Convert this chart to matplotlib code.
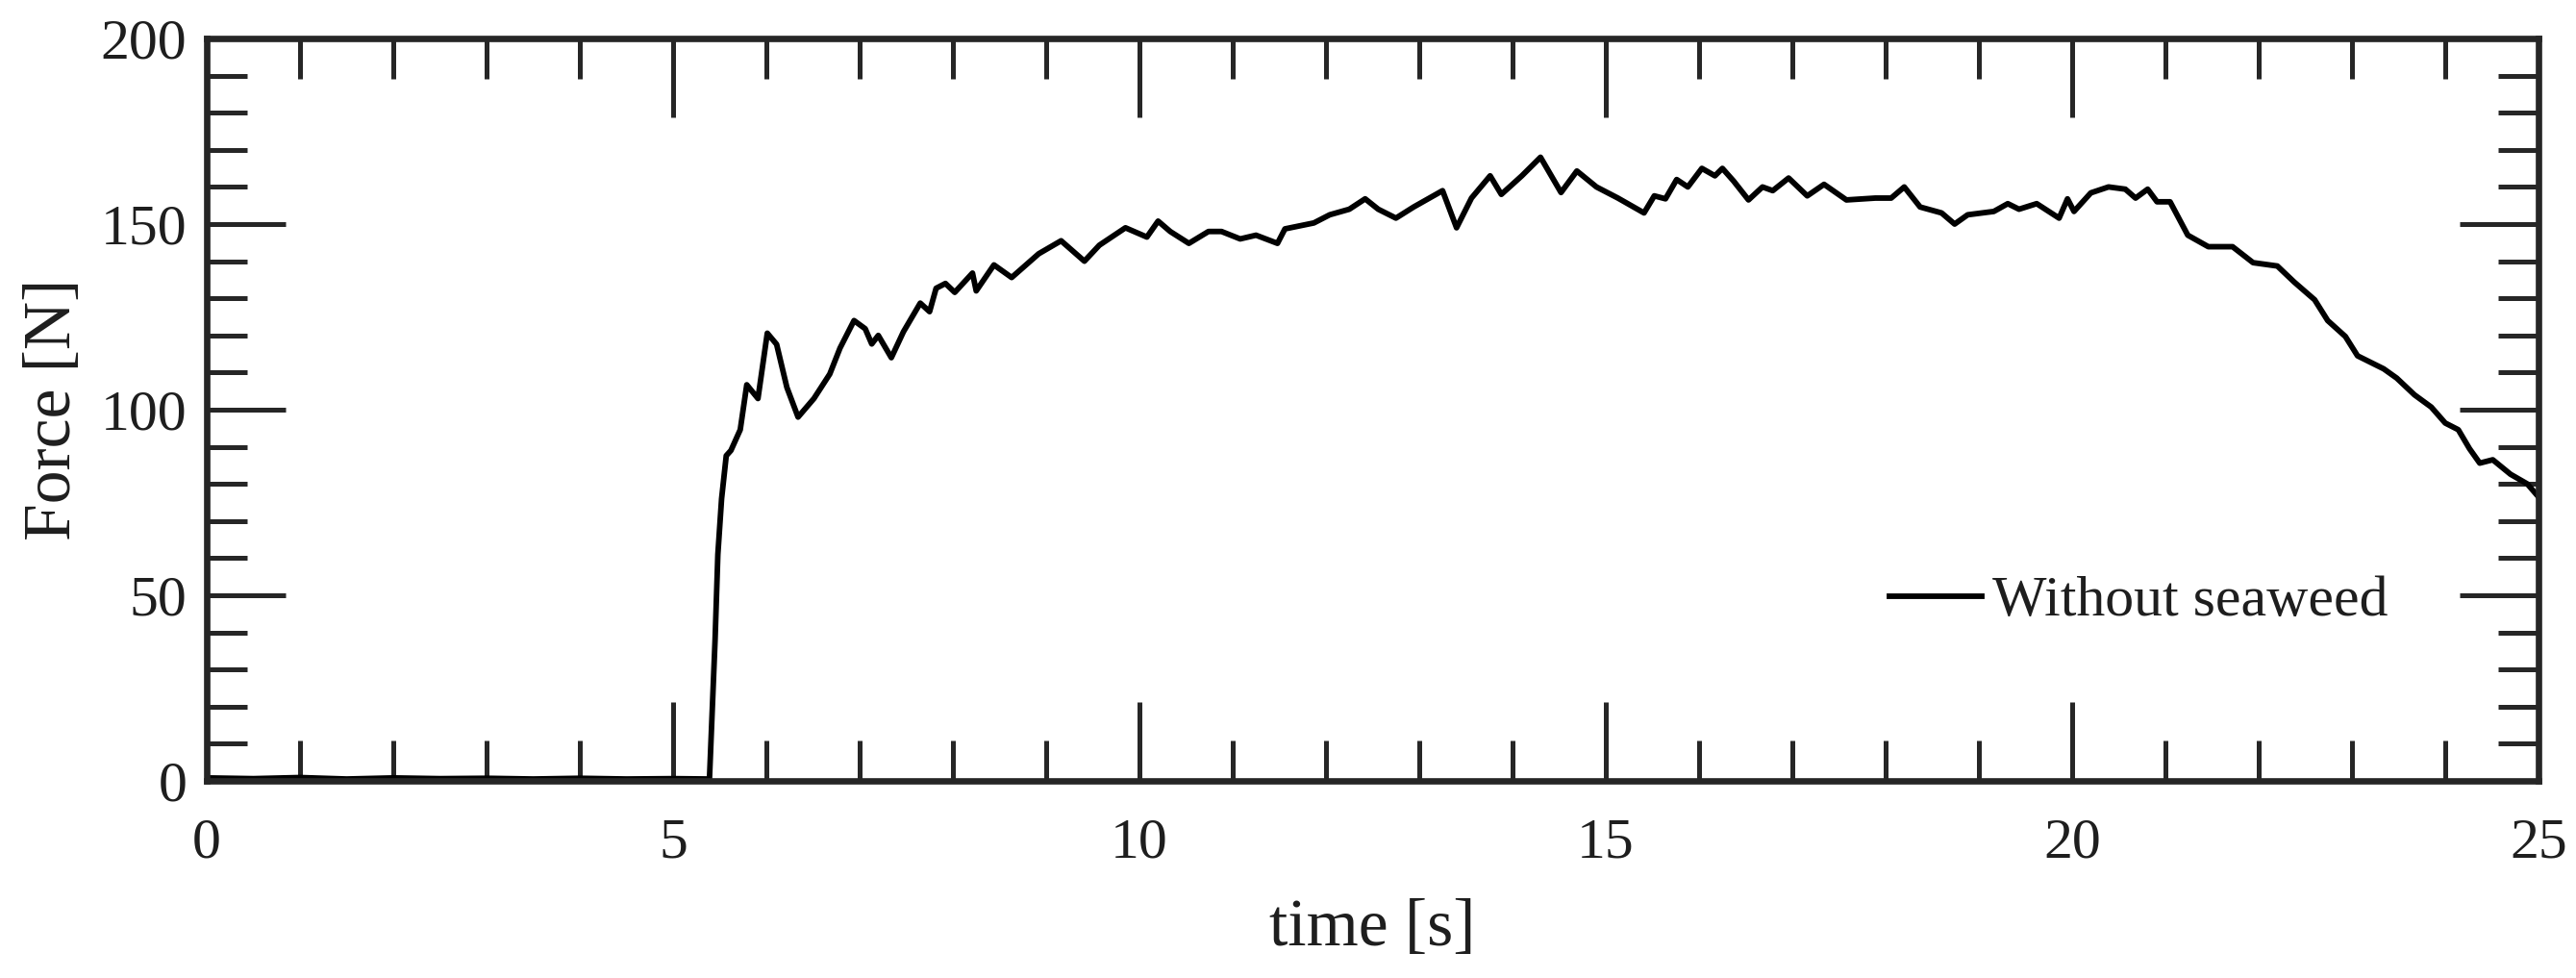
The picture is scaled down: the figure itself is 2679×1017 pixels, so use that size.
import matplotlib
matplotlib.use("Agg")
import matplotlib.pyplot as plt
from matplotlib.ticker import MultipleLocator

# ---- data ----
time_s = [0.0, 0.5, 1.0, 1.5, 2.0, 2.5, 3.0, 3.5, 4.0, 4.5, 5.0, 5.39,
          5.45, 5.48, 5.52, 5.57, 5.62, 5.72, 5.79, 5.91, 6.01, 6.11, 6.22,
          6.34, 6.51, 6.68, 6.79, 6.94, 7.06, 7.13, 7.20, 7.34, 7.47, 7.65,
          7.75, 7.82, 7.92, 8.02, 8.21, 8.25, 8.44, 8.63, 8.92, 9.16, 9.41,
          9.57, 9.85, 10.08, 10.20, 10.33, 10.53, 10.74, 10.88, 11.08, 11.25,
          11.48, 11.56, 11.87, 12.04, 12.25, 12.42, 12.56, 12.75, 12.94,
          13.25, 13.40, 13.56, 13.76, 13.88, 14.10, 14.30, 14.52, 14.69,
          14.90, 15.13, 15.41, 15.52, 15.64, 15.76, 15.88, 16.03, 16.17,
          16.25, 16.37, 16.53, 16.68, 16.79, 16.96, 17.16, 17.34, 17.58,
          17.89, 18.06, 18.20, 18.37, 18.60, 18.74, 18.88, 19.16, 19.31,
          19.43, 19.62, 19.86, 19.95, 20.02, 20.20, 20.39, 20.57, 20.68,
          20.81, 20.91, 21.05, 21.24, 21.46, 21.72, 21.94, 22.20, 22.38,
          22.60, 22.74, 22.93, 23.06, 23.34, 23.48, 23.67, 23.85, 24.00,
          24.14, 24.26, 24.37, 24.51, 24.70, 24.88, 25.00]
force_N = [0.8, 0.6, 0.9, 0.5, 0.8, 0.6, 0.7, 0.5, 0.7, 0.5, 0.6, 0.5,
           37.8, 61.0, 76.0, 87.6, 89.0, 94.6, 106.7, 103.0, 120.6, 117.6, 106.0,
           98.0, 103.0, 109.6, 116.6, 124.0, 121.8, 117.7, 120.0, 114.0, 121.0, 128.7,
           126.4, 132.7, 134.0, 131.6, 136.8, 132.0, 139.0, 135.6, 142.0, 145.5, 140.0,
           144.3, 149.0, 146.5, 150.8, 148.0, 144.8, 148.0, 148.0, 146.0, 147.0,
           144.8, 148.7, 150.3, 152.5, 154.0, 156.8, 154.0, 151.6, 154.6,
           159.0, 149.0, 157.0, 163.0, 158.0, 163.0, 168.0, 158.5, 164.3,
           160.0, 157.0, 153.0, 157.6, 156.8, 162.0, 160.0, 165.0, 163.0,
           165.0, 161.6, 156.5, 160.0, 159.0, 162.4, 157.6, 160.7, 156.5,
           157.0, 157.0, 160.0, 154.6, 153.0, 150.0, 152.5, 153.4, 155.5,
           154.0, 155.5, 151.6, 156.8, 153.4, 158.4, 160.0, 159.4, 157.0,
           159.4, 156.0, 156.0, 147.0, 143.9, 143.9, 139.6, 138.7, 134.4,
           129.6, 124.0, 119.7, 114.5, 111.0, 108.5, 104.0, 100.7, 96.4,
           94.6, 89.5, 85.6, 86.5, 82.6, 80.0, 76.5]
series_label = "Without seaweed"
x_ticks = [0, 5, 10, 15, 20, 25]
y_ticks = [0, 50, 100, 150, 200]

# ---- style ----
plt.rcParams['font.family'] = ['Liberation Serif', 'DejaVu Serif']
FS = 43
FS_LABEL = 50
axis_col = '#262626'
text_col = '#1e1e1e'

fig = plt.figure(figsize=(26.79, 10.17), dpi=100)
ax = fig.add_axes([215/2679, 1-812/1017, 2425/2679, 772/1017])

ax.plot(time_s, force_N, color='black', lw=4.2, label=series_label,
        solid_joinstyle='round')

ax.set_xlim(0, 25)
ax.set_ylim(0, 200)
ax.set_xticks(x_ticks)
ax.set_yticks(y_ticks)
ax.xaxis.set_minor_locator(MultipleLocator(1))
ax.yaxis.set_minor_locator(MultipleLocator(10))

for s in ax.spines.values():
    s.set_linewidth(4.8)
    s.set_color(axis_col)

ax.tick_params(axis='both', which='both', direction='in', top=True, right=True,
               color=axis_col, labelcolor=text_col, labelsize=FS)
ax.tick_params(axis='both', which='major', length=59, width=3.6)
ax.tick_params(axis='both', which='minor', length=30, width=3.6)
ax.tick_params(axis='x', which='major', pad=28)
ax.tick_params(axis='y', which='major', pad=15)

ax.set_xlabel('time [s]', fontsize=FS_LABEL, color=text_col)
ax.set_ylabel('Force [N]', fontsize=FS_LABEL, color=text_col)
ax.xaxis.set_label_coords(0.5, (812-966)/772)
ax.xaxis.label.set_va('center')
ax.yaxis.set_label_coords((56-215)/2425, 0.5)
ax.yaxis.label.set_va('center')

leg = ax.legend(loc='center left', bbox_to_anchor=((1965-215)/2425, (812-626)/772),
                frameon=False, fontsize=FS, handlelength=1.6, handletextpad=0.2,
                borderpad=0, borderaxespad=0)
for t in leg.get_texts():
    t.set_color(text_col)

fig.savefig('out.png', dpi=100, facecolor='white')
